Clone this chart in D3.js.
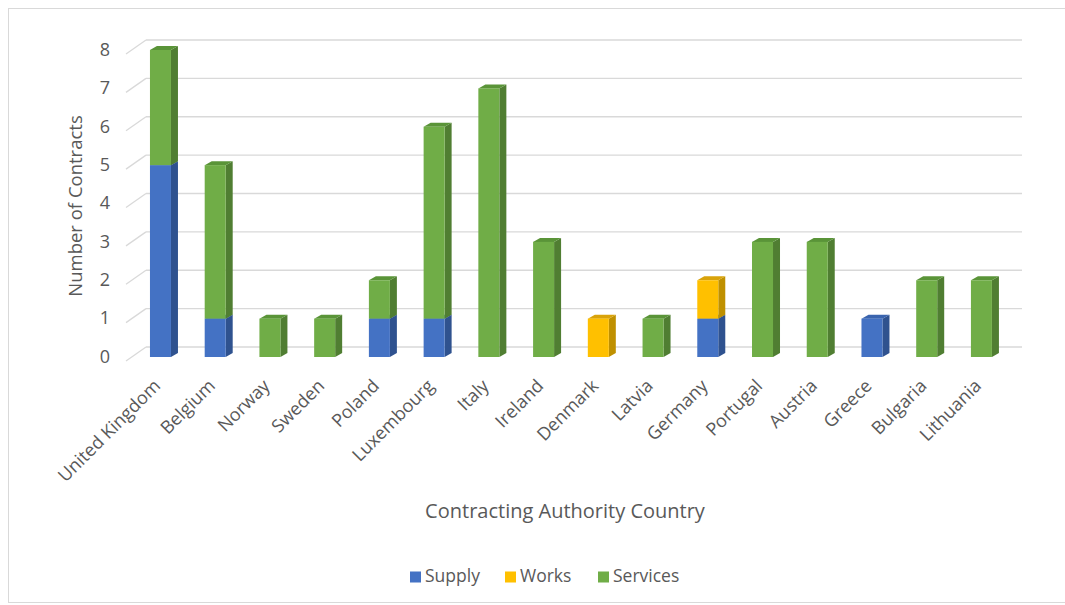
<!DOCTYPE html>
<html>
<head>
<meta charset="utf-8">
<script src="https://cdn.jsdelivr.net/npm/d3@7"></script>
<style>
  html, body { margin: 0; padding: 0; background: #fff; }
  svg { display: block; }
  text { font-family: "Open Sans", "Liberation Sans", sans-serif; fill: #595959; }
</style>
</head>
<body>
<svg id="chart" width="1065" height="605"></svg>
<script>
// Contracts per contracting authority country, split by contract type
const countries = ["United Kingdom", "Belgium", "Norway", "Sweden", "Poland", "Luxembourg",
  "Italy", "Ireland", "Denmark", "Latvia", "Germany", "Portugal", "Austria", "Greece",
  "Bulgaria", "Lithuania"];
const supply   = [5, 1, 0, 0, 1, 1, 0, 0, 0, 0, 1, 0, 0, 1, 0, 0];
const works    = [0, 0, 0, 0, 0, 0, 0, 0, 1, 0, 1, 0, 0, 0, 0, 0];
const services = [3, 4, 1, 1, 1, 5, 7, 3, 0, 1, 0, 3, 3, 0, 2, 2];
const yTicks = [0, 1, 2, 3, 4, 5, 6, 7, 8];

const seriesNames = ["Supply", "Works", "Services"];
const seriesValues = [supply, works, services];
const palette = {
  Supply:   { front: "#4472C4", side: "#2F528F", top: "#3A64AE" },
  Works:    { front: "#FFC000", side: "#BF9000", top: "#D9A30A" },
  Services: { front: "#70AD47", side: "#507E32", top: "#5A9438" }
};

const svg = d3.select("#chart");

// outer chart border
svg.append("rect")
  .attr("x", 8.5).attr("y", 8.5).attr("width", 1070).attr("height", 594)
  .attr("fill", "#fff").attr("stroke", "#d9d9d9").attr("stroke-width", 1);

// front plane (bars) and back wall (gridlines) share the value scale, offset in depth
const y = d3.scaleLinear().domain([0, 8]).range([357, 50]);
const wallDy = -10;
const x = d3.scaleBand().domain(countries).range([133.1, 1008.8]).paddingInner(0.6).paddingOuter(0.3);
const barW = 21;
const depth = { dx: 7, dy: -4 };

// gridlines: back wall plus the short slanted run along the left side wall
const grid = svg.append("g");
yTicks.forEach(v => {
  const yb = y(v) + wallDy;
  grid.append("line")
    .attr("x1", 146).attr("x2", 1022).attr("y1", yb).attr("y2", yb)
    .attr("stroke", "#d9d9d9").attr("stroke-width", 1.3);
  grid.append("line")
    .attr("x1", 126).attr("y1", yb + 14).attr("x2", 146).attr("y2", yb)
    .attr("stroke", "#d9d9d9").attr("stroke-width", 1.3);
});

// value axis labels
svg.append("g").selectAll("text").data(yTicks).join("text")
  .attr("x", 110).attr("y", v => y(v) + wallDy + 11)
  .attr("text-anchor", "end").attr("dominant-baseline", "middle")
  .attr("font-size", 18).text(v => v);

// stacked 3D bars
const rows = countries.map((c, i) => {
  const r = { country: c };
  seriesNames.forEach((s, k) => r[s] = seriesValues[k][i]);
  return r;
});
const stacked = d3.stack().keys(seriesNames)(rows);

const bars = svg.append("g");
countries.forEach((c, i) => {
  const cx = x(c) + x.bandwidth() / 2;
  const x0 = cx - barW / 2, x1 = cx + barW / 2;
  stacked.forEach(layer => {
    const seg = layer[i];
    if (seg[1] - seg[0] <= 0) return;
    const col = palette[layer.key];
    const yb = y(seg[0]), yt = y(seg[1]);
    const g = bars.append("g");
    g.append("path")
      .attr("d", `M${x1},${yb}L${x1 + depth.dx},${yb + depth.dy}L${x1 + depth.dx},${yt + depth.dy}L${x1},${yt}Z`)
      .attr("fill", col.side);
    g.append("path")
      .attr("d", `M${x0},${yt}L${x0 + depth.dx},${yt + depth.dy}L${x1 + depth.dx},${yt + depth.dy}L${x1},${yt}Z`)
      .attr("fill", col.top);
    g.append("rect")
      .attr("x", x0).attr("y", yt).attr("width", barW).attr("height", yb - yt)
      .attr("fill", col.front);
  });
});

// category labels
svg.append("g").selectAll("text").data(countries).join("text")
  .attr("transform", c => `translate(${x(c) + x.bandwidth() / 2 + 1},${387}) rotate(-45)`)
  .attr("text-anchor", "end").attr("font-size", 18).text(c => c);

// axis titles
svg.append("text")
  .attr("transform", "translate(82,206) rotate(-90)")
  .attr("text-anchor", "middle").attr("font-size", 18.5).text("Number of Contracts");
svg.append("text")
  .attr("x", 565).attr("y", 518).attr("text-anchor", "middle")
  .attr("font-size", 20).text("Contracting Authority Country");

// legend
const legendItems = [
  { name: "Supply", x: 410 },
  { name: "Works", x: 505 },
  { name: "Services", x: 598 }
];
const lg = svg.append("g");
legendItems.forEach(d => {
  lg.append("rect").attr("x", d.x).attr("y", 571.5).attr("width", 11).attr("height", 11)
    .attr("fill", palette[d.name].front);
  lg.append("text").attr("x", d.x + 15).attr("y", 577).attr("dominant-baseline", "middle")
    .attr("font-size", 17.5).text(d.name);
});
</script>
</body>
</html>
